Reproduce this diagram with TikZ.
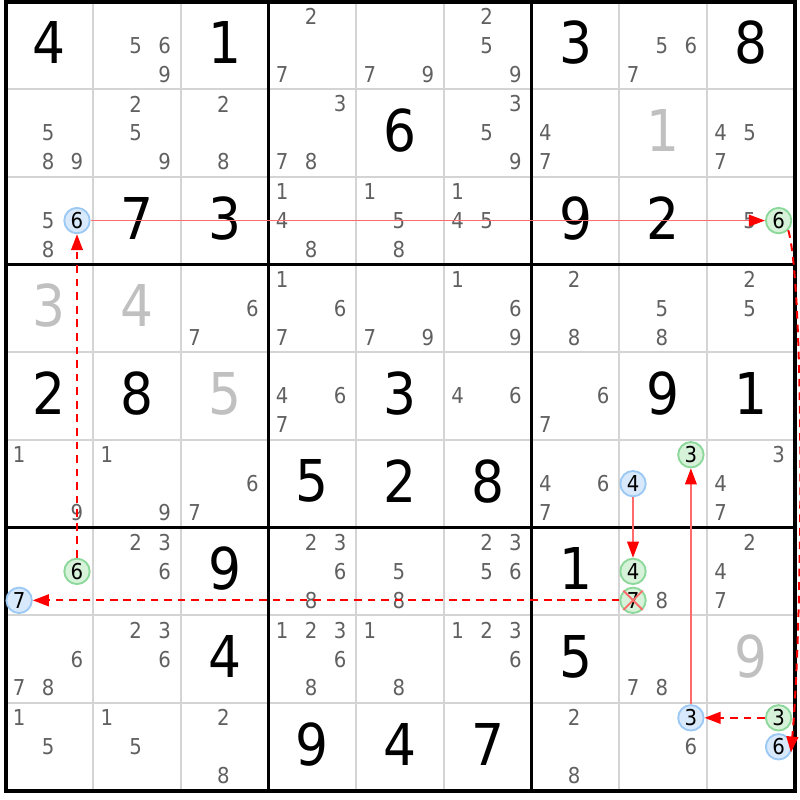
\documentclass[tikz,border=0pt]{standalone}
\usepackage{fontspec}
\setmainfont{DejaVu Sans Condensed}
\usetikzlibrary{arrows.meta}
\definecolor{cellgrey}{HTML}{D4D4D4}
\definecolor{candgrey}{HTML}{606060}
\definecolor{fadegrey}{HTML}{C0C0C0}
\definecolor{ringblue}{HTML}{9CC8F4}
\definecolor{fillblue}{HTML}{D8E9FB}
\definecolor{ringgreen}{HTML}{8CD89A}
\definecolor{fillgreen}{HTML}{D6F2D8}
\definecolor{linkred}{HTML}{FF0000}
\definecolor{softred}{HTML}{FF6A6A}
\tikzset{
  givendigit/.style={font=\fontsize{18.7}{20}\selectfont, inner sep=0pt},
  fadedigit/.style={givendigit, text=fadegrey},
  canddigit/.style={font=\fontsize{7.1}{8}\selectfont, text=candgrey, inner sep=0pt},
  bluering/.style={canddigit, text=black, circle, draw=ringblue, fill=fillblue, line width=0.6pt, minimum size=0.29cm},
  greenring/.style={bluering, draw=ringgreen, fill=fillgreen},
  strong/.style={softred, line width=0.45pt, -{Triangle[length=5.2pt,width=3.8pt,color=linkred]}},
  weak/.style={linkred, line width=0.65pt, dash pattern=on 2.5pt off 1.9pt, -{Triangle[length=5.2pt,width=3.8pt]}}
}
% row, column, digit
\newcommand{\given}[3]{\node[givendigit] (g#1#2) at (#2-0.5,0.53-#1) {#3};}
\newcommand{\faded}[3]{\node[fadedigit] (g#1#2) at (#2-0.5,0.53-#1) {#3};}
\newcommand{\cand}[3]{\foreach \dg in {#3}{\node[canddigit] (c#1#2\dg) at ({#2-0.845+0.33*mod(\dg-1,3)},{0.832-#1-0.33*floor((\dg-1)/3)}) {\dg};}}
\newcommand{\ring}[4]{\node[#4] (c#1#2#3) at ({#2-0.845+0.33*mod(#3-1,3)},{0.832-#1-0.33*floor((#3-1)/3)}) {#3};}
\begin{document}
\begin{tikzpicture}
\useasboundingbox (-0.063,0.017) rectangle (9.059,-9.105);
\draw[cellgrey, line width=0.65pt] (0,0) grid (9,-9);
\foreach \i in {3,6} {
  \draw[line width=1.1pt] (\i,0) -- (\i,-9);
  \draw[line width=1.1pt] (0,-\i) -- (9,-\i);
}
\draw[line width=1.3pt] (0,0) rectangle (9,-9);

\given{1}{1}{4} \given{1}{3}{1} \given{1}{7}{3} \given{1}{9}{8}
\given{2}{5}{6} \faded{2}{8}{1}
\given{3}{2}{7} \given{3}{3}{3} \given{3}{7}{9} \given{3}{8}{2}
\faded{4}{1}{3} \faded{4}{2}{4}
\given{5}{1}{2} \given{5}{2}{8} \faded{5}{3}{5} \given{5}{5}{3} \given{5}{8}{9} \given{5}{9}{1}
\given{6}{4}{5} \given{6}{5}{2} \given{6}{6}{8}
\given{7}{3}{9} \given{7}{7}{1}
\given{8}{3}{4} \given{8}{7}{5} \faded{8}{9}{9}
\given{9}{4}{9} \given{9}{5}{4} \given{9}{6}{7}

\cand{1}{2}{5,6,9} \cand{1}{4}{2,7} \cand{1}{5}{7,9} \cand{1}{6}{2,5,9} \cand{1}{8}{5,6,7}
\cand{2}{1}{5,8,9} \cand{2}{2}{2,5,9} \cand{2}{3}{2,8} \cand{2}{4}{3,7,8} \cand{2}{6}{3,5,9} \cand{2}{7}{4,7} \cand{2}{9}{4,5,7}
\cand{3}{1}{5,8} \cand{3}{4}{1,4,8} \cand{3}{5}{1,5,8} \cand{3}{6}{1,4,5} \cand{3}{9}{5}
\cand{4}{3}{6,7} \cand{4}{4}{1,6,7} \cand{4}{5}{7,9} \cand{4}{6}{1,6,9} \cand{4}{7}{2,8} \cand{4}{8}{5,8} \cand{4}{9}{2,5}
\cand{5}{4}{4,6,7} \cand{5}{6}{4,6} \cand{5}{7}{6,7}
\cand{6}{1}{1,9} \cand{6}{2}{1,9} \cand{6}{3}{6,7} \cand{6}{7}{4,6,7} \cand{6}{9}{3,4,7}
\cand{7}{2}{2,3,6} \cand{7}{4}{2,3,6,8} \cand{7}{5}{5,8} \cand{7}{6}{2,3,5,6} \cand{7}{8}{8} \cand{7}{9}{2,4,7}
\cand{8}{1}{6,7,8} \cand{8}{2}{2,3,6} \cand{8}{4}{1,2,3,6,8} \cand{8}{5}{1,8} \cand{8}{6}{1,2,3,6} \cand{8}{8}{7,8}
\cand{9}{1}{1,5} \cand{9}{2}{1,5} \cand{9}{3}{2,8} \cand{9}{7}{2,8} \cand{9}{8}{6}

\ring{3}{1}{6}{bluering} \ring{3}{9}{6}{greenring}
\ring{6}{8}{3}{greenring} \ring{6}{8}{4}{bluering}
\ring{7}{1}{6}{greenring} \ring{7}{1}{7}{bluering}
\ring{7}{8}{4}{greenring} \ring{7}{8}{7}{greenring}
\ring{9}{8}{3}{bluering}
\ring{9}{9}{3}{greenring} \ring{9}{9}{6}{bluering}
\draw[softred, line width=0.6pt] (c787.north west) -- (c787.south east) (c787.north east) -- (c787.south west);

\draw[strong] (c316) -- (c396);
\draw[weak] (c396.-45) .. controls +(0.18,-0.6) and +(0.14,1.6) .. (c996.-25);
\draw[weak] (c993) -- (c983);
\draw[strong] (c983) -- (c683);
\draw[strong] (c684) -- (c784);
\draw[weak] (c787) -- (c717);
\draw[weak] (c716) -- (c316);
\end{tikzpicture}
\end{document}
